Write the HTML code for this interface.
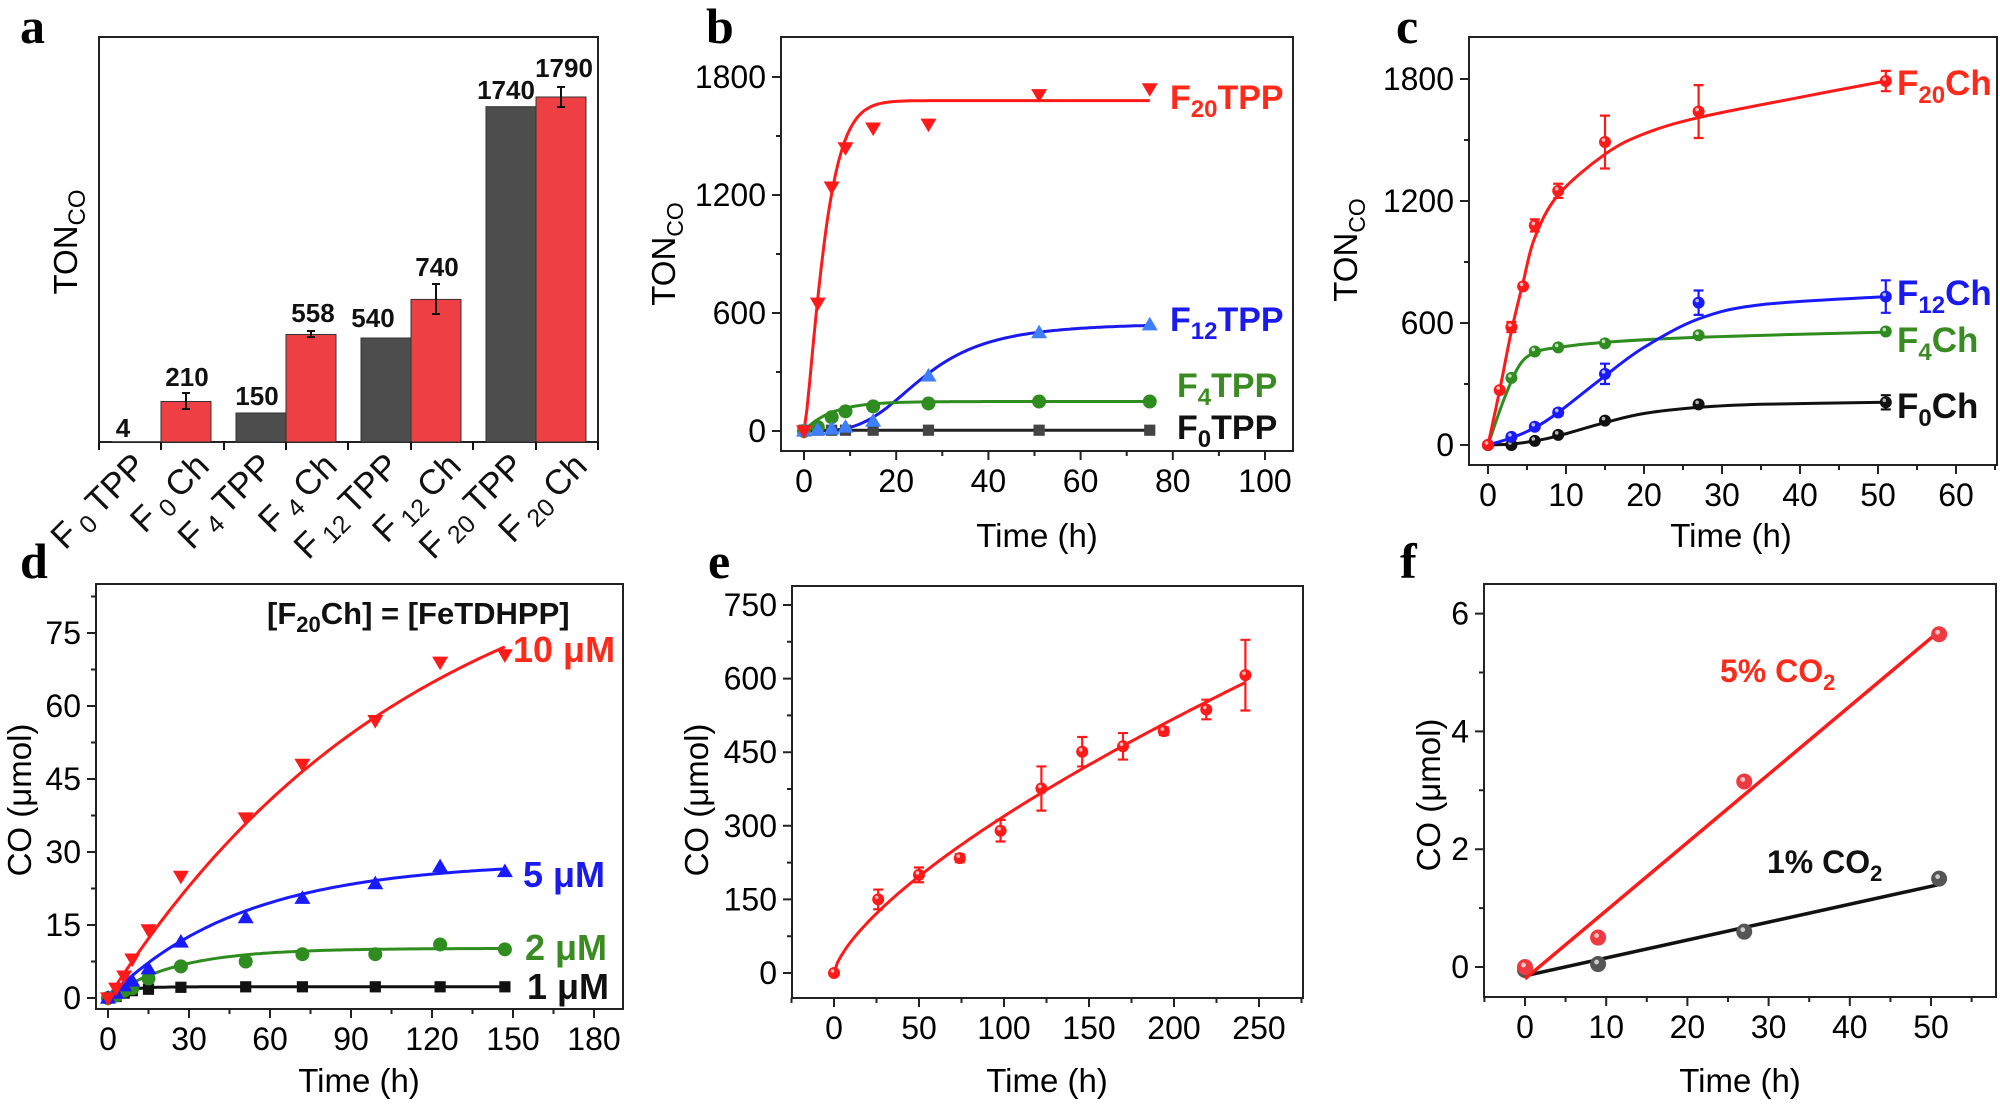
<!DOCTYPE html>
<html><head><meta charset="utf-8">
<style>
html,body{margin:0;padding:0;background:#fff;}
svg{display:block;}
text{font-family:"Liberation Sans",Arial,sans-serif;}
.pl{font-family:"Liberation Serif",serif;font-weight:bold;font-size:50px;}
.tk{font-size:32px;}
.al{font-size:33px;}
.lb{font-size:33px;font-weight:bold;}
</style></head>
<body>
<svg id="s" width="2000" height="1104" viewBox="0 0 2000 1104" xmlns="http://www.w3.org/2000/svg">
<rect width="2000" height="1104" fill="#fff"/>
<text class="pl" x="20" y="43">a</text>
<text class="pl" x="706" y="43">b</text>
<text class="pl" x="1396" y="43">c</text>
<text class="pl" x="20" y="578">d</text>
<text class="pl" x="708" y="578">e</text>
<text class="pl" x="1400" y="578">f</text>

<g id="pa">
<rect x="99" y="37" width="499" height="405" fill="none" stroke="#222" stroke-width="2"/>
<rect x="112" y="441" width="49" height="1" fill="#555"/>
<rect x="161" y="401.5" width="50" height="40.5" fill="#ee4044" stroke="#333" stroke-width="1"/>
<rect x="236" y="413" width="50" height="29" fill="#4d4d4d" stroke="#333" stroke-width="1"/>
<rect x="286" y="334.5" width="50" height="107.5" fill="#ee4044" stroke="#333" stroke-width="1"/>
<rect x="361" y="338" width="50" height="104" fill="#4d4d4d" stroke="#333" stroke-width="1"/>
<rect x="411" y="299.4" width="50" height="142.6" fill="#ee4044" stroke="#333" stroke-width="1"/>
<rect x="486" y="106.7" width="50" height="335.3" fill="#4d4d4d" stroke="#333" stroke-width="1"/>
<rect x="536" y="97" width="50" height="345" fill="#ee4044" stroke="#333" stroke-width="1"/>
<g stroke="#111" stroke-width="2" fill="none">
<path d="M186 393v16M182 393h8M182 409h8"/>
<path d="M311 331v6M307 331h8M307 337h8"/>
<path d="M436 284v30M432 284h8M432 314h8"/>
<path d="M561 87v20M557 87h8M557 107h8"/>
<path d="M99 442v8M161 442v8M224 442v8M286 442v8M348 442v8M411 442v8M473 442v8M536 442v8M598 442v8"/>
</g>
<g font-weight="bold" font-size="26" text-anchor="middle" fill="#111">
<text x="123" y="437">4</text>
<text x="187" y="386">210</text>
<text x="257" y="405">150</text>
<text x="313" y="322">558</text>
<text x="373" y="327">540</text>
<text x="437" y="276">740</text>
<text x="506" y="99">1740</text>
<text x="564" y="77">1790</text>
</g>
<g font-size="35" text-anchor="end" fill="#111">
<text transform="translate(148,468) rotate(-45)">F<tspan font-size="25" dy="6"> 0 </tspan><tspan dy="-6">TPP</tspan></text>
<text transform="translate(211,468) rotate(-45)">F<tspan font-size="25" dy="6"> 0 </tspan><tspan dy="-6">Ch</tspan></text>
<text transform="translate(275,468) rotate(-45)">F<tspan font-size="25" dy="6"> 4 </tspan><tspan dy="-6">TPP</tspan></text>
<text transform="translate(339,468) rotate(-45)">F<tspan font-size="25" dy="6"> 4 </tspan><tspan dy="-6">Ch</tspan></text>
<text transform="translate(401,468) rotate(-45)">F<tspan font-size="25" dy="6"> 12 </tspan><tspan dy="-6">TPP</tspan></text>
<text transform="translate(463,468) rotate(-45)">F<tspan font-size="25" dy="6"> 12 </tspan><tspan dy="-6">Ch</tspan></text>
<text transform="translate(526,468) rotate(-45)">F<tspan font-size="25" dy="6"> 20 </tspan><tspan dy="-6">TPP</tspan></text>
<text transform="translate(589,468) rotate(-45)">F<tspan font-size="25" dy="6"> 20 </tspan><tspan dy="-6">Ch</tspan></text>
</g>
<text class="al" font-size="36" transform="translate(77,242) rotate(-90)" text-anchor="middle">TON<tspan font-size="24" dy="8">CO</tspan></text>
</g>

<text class="al" transform="translate(675,254) rotate(-90)" text-anchor="middle">TON<tspan font-size="23" dy="8">CO</tspan></text>
<text class="al" transform="translate(1357,250) rotate(-90)" text-anchor="middle">TON<tspan font-size="23" dy="8">CO</tspan></text>
<text class="al" x="1037" y="547" text-anchor="middle">Time (h)</text>
<text class="al" x="1731" y="547" text-anchor="middle">Time (h)</text>
<text class="al" transform="translate(31,800) rotate(-90)" text-anchor="middle">CO (μmol)</text>
<text class="al" transform="translate(708,800) rotate(-90)" text-anchor="middle">CO (μmol)</text>
<text class="al" transform="translate(1440,795) rotate(-90)" text-anchor="middle">CO (μmol)</text>
<text class="al" x="359" y="1092" text-anchor="middle">Time (h)</text>
<text class="al" x="1047" y="1092" text-anchor="middle">Time (h)</text>
<text class="al" x="1740" y="1092" text-anchor="middle">Time (h)</text>

<g class="lb">
<text x="1170" y="109" fill="#ff2a1a" font-size="34">F<tspan font-size="24" dy="8">20</tspan><tspan dy="-8">TPP</tspan></text>
<text x="1170" y="331" fill="#1a1aee" font-size="34">F<tspan font-size="24" dy="8">12</tspan><tspan dy="-8">TPP</tspan></text>
<text x="1177" y="397" fill="#3a8c22" font-size="34">F<tspan font-size="24" dy="8">4</tspan><tspan dy="-8">TPP</tspan></text>
<text x="1177" y="439" fill="#111" font-size="34">F<tspan font-size="24" dy="8">0</tspan><tspan dy="-8">TPP</tspan></text>
<text x="1897" y="95" fill="#ff2a1a" font-size="35">F<tspan font-size="24" dy="8">20</tspan><tspan dy="-8">Ch</tspan></text>
<text x="1897" y="305" fill="#1a1aee" font-size="35">F<tspan font-size="24" dy="8">12</tspan><tspan dy="-8">Ch</tspan></text>
<text x="1897" y="352" fill="#3a8c22" font-size="35">F<tspan font-size="24" dy="8">4</tspan><tspan dy="-8">Ch</tspan></text>
<text x="1897" y="418" fill="#111" font-size="35">F<tspan font-size="24" dy="8">0</tspan><tspan dy="-8">Ch</tspan></text>
<text x="267" y="624" fill="#111" font-size="31">[F<tspan font-size="22" dy="8">20</tspan><tspan dy="-8">Ch] = [FeTDHPP]</tspan></text>
<text x="513" y="662" fill="#ff2a1a" font-size="36">10 μM</text>
<text x="523" y="887" fill="#1a1aee" font-size="36">5 μM</text>
<text x="525" y="960" fill="#3a8c22" font-size="36">2 μM</text>
<text x="527" y="999" fill="#111" font-size="36">1 μM</text>
<text x="1720" y="682" fill="#ff2a1a" font-size="32">5% CO<tspan font-size="22" dy="8">2</tspan></text>
<text x="1767" y="873" fill="#111" font-size="32">1% CO<tspan font-size="22" dy="8">2</tspan></text>
</g>
<g id="dyn"></g>
</svg>
<script>
(function(){
var g=document.getElementById("dyn"),out="";
function P(c){
  var X=function(v){return c.xa+v*c.xb;},Y=function(v){return c.ya-v*c.yb;};
  c.X=X;c.Y=Y;var f=c.f,s="",d="",k,v;
  for(k=Math.ceil(c.xm[0]/c.xm[2]);k<=Math.floor(c.xm[1]/c.xm[2]);k++){v=k*c.xm[2];var x=X(v);if(x<f[0]-1||x>f[2]+1)continue;var maj=Math.abs(v/c.xM-Math.round(v/c.xM))<1e-6;d+="M"+x+" "+f[3]+"v"+(maj?9:5);
    if(maj&&v>=c.xl[0]&&v<=c.xl[1])s+='<text class="tk" x="'+x+'" y="'+(f[3]+41)+'" text-anchor="middle">'+Math.round(v)+'</text>';}
  for(k=Math.ceil(c.ym[0]/c.ym[2]);k<=Math.floor(c.ym[1]/c.ym[2]);k++){v=k*c.ym[2];var y=Y(v);if(y<f[1]-1||y>f[3]+1)continue;var maj=Math.abs(v/c.yM-Math.round(v/c.yM))<1e-6;d+="M"+f[0]+" "+y+"h"+(maj?-9:-5);
    if(maj)s+='<text class="tk" x="'+(f[0]-15)+'" y="'+(y+11)+'" text-anchor="end">'+Math.round(v)+'</text>';}
  s+='<rect x="'+f[0]+'" y="'+f[1]+'" width="'+(f[2]-f[0])+'" height="'+(f[3]-f[1])+'" fill="none" stroke="#222" stroke-width="2"/>';
  s+='<path d="'+d+'" stroke="#222" stroke-width="2" fill="none"/>';
  out+=s;return c;
}
function fn(c,F,t0,t1,col){var d="";for(var i=0;i<=120;i++){var t=t0+(t1-t0)*i/120;d+=(i?"L":"M")+c.X(t).toFixed(1)+" "+c.Y(F(t)).toFixed(1);}out+='<path d="'+d+'" stroke="'+col+'" stroke-width="3" fill="none"/>';}
function cr(c,pts,col){var p=pts.map(function(q){return [c.X(q[0]),c.Y(q[1])];});var d="M"+p[0][0]+" "+p[0][1];
  for(var i=0;i<p.length-1;i++){var p0=p[i-1]||p[i],p1=p[i],p2=p[i+1],p3=p[i+2]||p2;
   d+="C"+(p1[0]+(p2[0]-p0[0])/6).toFixed(1)+" "+(p1[1]+(p2[1]-p0[1])/6).toFixed(1)+" "+(p2[0]-(p3[0]-p1[0])/6).toFixed(1)+" "+(p2[1]-(p3[1]-p1[1])/6).toFixed(1)+" "+p2[0].toFixed(1)+" "+p2[1].toFixed(1);}
  out+='<path d="'+d+'" stroke="'+col+'" stroke-width="3" fill="none"/>';}
function mk(c,pts,type,col,r){r=r||7;pts.forEach(function(q){var x=c.X(q[0]),y=c.Y(q[1]);
  if(q[2]){var y1=c.Y(q[1]+q[2]),y2=c.Y(q[1]-q[2]);out+='<path d="M'+x+' '+y1+'V'+y2+'M'+(x-5)+' '+y1+'h10M'+(x-5)+' '+y2+'h10" stroke="'+col+'" stroke-width="2.2" fill="none"/>';}
  if(type=="d")out+='<path d="M'+(x-r)+' '+(y-r*0.7)+'h'+(2*r)+'L'+x+' '+(y+r)+'z" fill="'+col+'"/>';
  else if(type=="u")out+='<path d="M'+(x-r)+' '+(y+r*0.7)+'h'+(2*r)+'L'+x+' '+(y-r)+'z" fill="'+col+'"/>';
  else if(type=="s")out+='<rect x="'+(x-r*0.8)+'" y="'+(y-r*0.8)+'" width="'+(1.6*r)+'" height="'+(1.6*r)+'" fill="'+col+'"/>';
  else if(type=="o")out+='<circle cx="'+x+'" cy="'+y+'" r="'+r+'" fill="'+col+'"/><circle cx="'+(x-1.5)+'" cy="'+(y-2)+'" r="'+(r*0.3)+'" fill="#fff" opacity="0.7"/>';
  else out+='<circle cx="'+x+'" cy="'+y+'" r="'+r+'" fill="'+col+'"/>';});}
var R="#ff1a1a",B="#1a1aff",G="#2f8c1e",K="#111";
var b=P({f:[781,37,1293,451],xa:804,xb:4.61,ya:431,yb:118/600,xm:[-5,105,10],xM:20,xl:[0,100],ym:[-300,2000,300],yM:600});
fn(b,function(t){return 1680*(1-Math.exp(-Math.pow(t/5,1.3)));},0,75,R);
fn(b,function(t){var a=Math.pow(t/26,3.5);return 550*a/(1+a);},0,75,"#1a1aee");
fn(b,function(t){return 150*(1-Math.exp(-t/6));},0,75,"#2f8c1e");
fn(b,function(t){return 4;},0,75,"#222");
mk(b,[[0,4],[3,4],[6,4],[9,4],[15,4],[27,4],[51,4],[75,4]],"s","#444",7);
mk(b,[[0,0],[3,20],[6,70],[9,100],[15,125],[27,140],[51,150],[75,150]],"c","#2f8c1e",7);
mk(b,[[0,0],[3,5],[6,10],[9,20],[15,50],[27,280],[51,500],[75,540]],"u","#3d7fff",8);
mk(b,[[0,0],[3,650],[6,1240],[9,1440],[15,1540],[27,1560],[51,1710],[75,1740]],"d",R,8);
var c=P({f:[1469,37,1997,465],xa:1488,xb:7.8,ya:445,yb:122/600,xm:[-2.5,67,5],xM:10,xl:[0,60],ym:[-300,2000,300],yM:600});
cr(c,[[0,0],[3,5],[6,20],[9,45],[15,110],[20,155],[27,185],[35,200],[51,210]],K);
cr(c,[[0,0],[2,220],[4,390],[6,455],[9,480],[15,505],[27,530],[51,555]],G);
cr(c,[[0,0],[3,35],[6,85],[9,160],[15,340],[20,480],[27,620],[35,690],[51,730]],B);
cr(c,[[0,0],[1.5,270],[3,560],[4.5,800],[6,1020],[9,1230],[15,1430],[20,1530],[27,1610],[40,1710],[51,1790]],R);
mk(c,[[0,0],[3,0],[6,20],[9,50],[15,120],[27,200],[51,210,35]],"o",K,6);
mk(c,[[0,0],[3,330],[6,460],[9,480],[15,500],[27,540],[51,558,5]],"o",G,6);
mk(c,[[0,0],[3,40],[6,90],[9,160,15],[15,350,50],[27,700,60],[51,730,80]],"o",B,6);
mk(c,[[0,0],[1.5,270],[3,580,25],[4.5,780],[6,1080,30],[9,1250,35],[15,1490,130],[27,1640,130],[51,1790,50]],"o",R,6);
var d=P({f:[96,584,623,1009],xa:108,xb:81/30,ya:998,yb:73/15,xm:[-15,195,15],xM:30,xl:[0,180],ym:[-7.5,90,7.5],yM:15});
fn(d,function(t){return 2.3*(1-Math.exp(-t/6));},0,147,K);
fn(d,function(t){return 10.2*(1-Math.exp(-t/25));},0,147,G);
fn(d,function(t){return 28*(1-Math.exp(-t/50));},0,147,B);
fn(d,function(t){return 100*(1-Math.exp(-t/115));},0,147,R);
var tt=[0,3,6,9,15,27,51,72,99,123,147];
mk(d,[0,0.3,1,1.5,1.8,2.2,2.3,2.3,2.3,2.3,2.3].map(function(v,i){return[tt[i],v];}),"s",K,7);
mk(d,[0,0.5,1.5,2,4,6.5,7.5,9,9,11,10].map(function(v,i){return[tt[i],v];}),"c",G,7);
mk(d,[0,1,2.5,3.5,6,11.5,16.5,20.5,23.5,27,26].map(function(v,i){return[tt[i],v];}),"u",B,8);
mk(d,[0,2,4.5,8,14,25,37,48,57,69,70.5].map(function(v,i){return[tt[i],v];}),"d",R,8);
var e=P({f:[792,586,1303,998],xa:834,xb:1.7,ya:973,yb:73.6/150,xm:[-25,275,25],xM:50,xl:[0,250],ym:[-75,800,75],yM:150});
fn(e,function(t){return 12.84*Math.pow(t,0.698);},0,242,R);
mk(e,[[0,0],[26,150,20],[50,200,15],[74,234,8],[98,290,22],[122,376,45],[146,451,30],[170,462,27],[194,493,8],[219,537,20],[242,607,72]],"o",R,6);
var f=P({f:[1484,584,1996,997],xa:1525,xb:8.12,ya:967,yb:58.9,xm:[-5,60,5],xM:10,xl:[0,50],ym:[-1,6.5,1],yM:2});
out+='<path d="M'+f.X(0)+' '+f.Y(-0.15)+'L'+f.X(51)+' '+f.Y(1.4)+'" stroke="#111" stroke-width="3.5"/>';
mk(f,[[0,-0.05],[9,0.05],[27,0.6],[51,1.5]],"o","#555",8);
out+='<path d="M'+f.X(0)+' '+f.Y(-0.2)+'L'+f.X(51)+' '+f.Y(5.7)+'" stroke="#ff1a1a" stroke-width="3.5"/>';
mk(f,[[0,0],[9,0.5],[27,3.15],[51,5.65]],"o","#ee3a40",8);
g.innerHTML=out;
})();
</script>
</body></html>
